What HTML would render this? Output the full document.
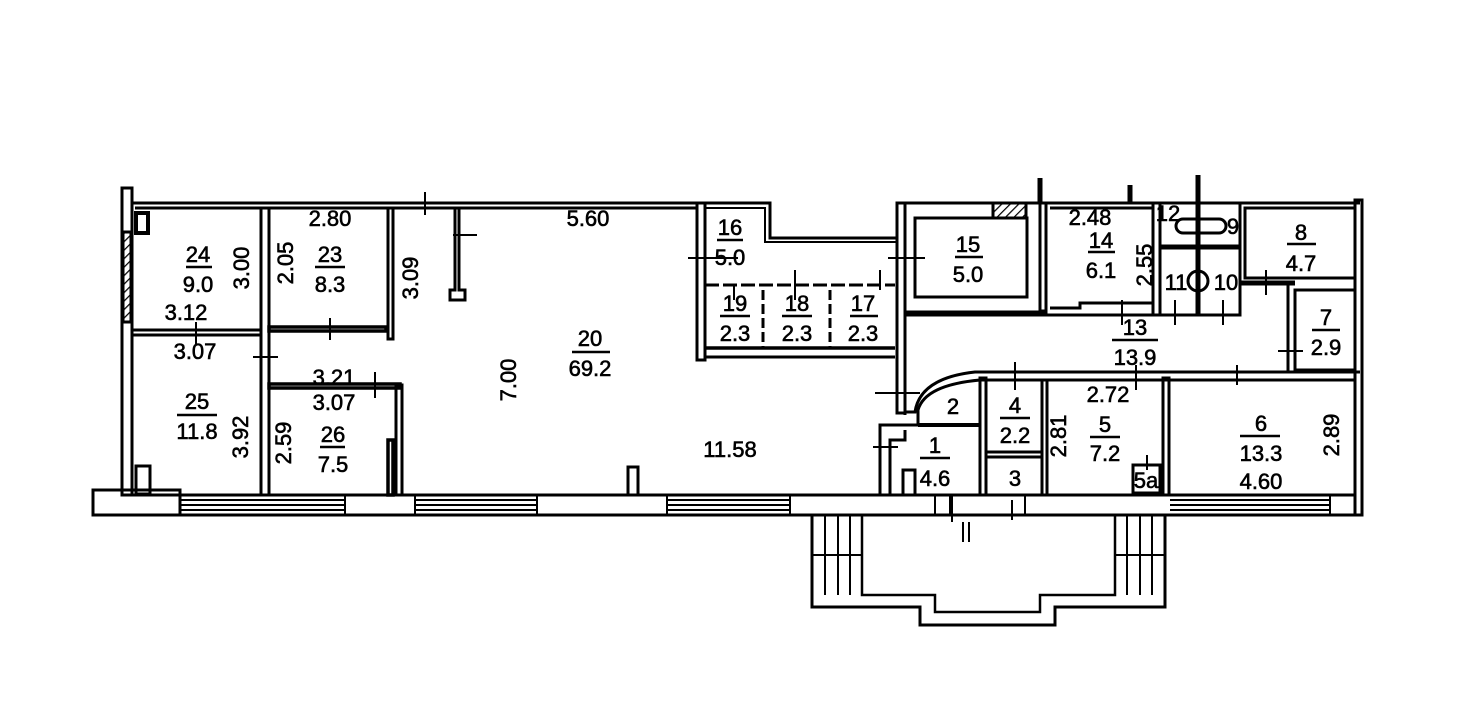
<!DOCTYPE html>
<html><head><meta charset="utf-8"><style>
html,body{margin:0;padding:0;background:#fff;}
svg{display:block}
text{font-family:"Liberation Sans",sans-serif;font-size:22px;fill:#000;stroke:#000;stroke-width:0.6;text-anchor:middle}
</style></head><body>
<svg width="1478" height="727" viewBox="0 0 1478 727" xmlns="http://www.w3.org/2000/svg">
<defs><pattern id="h" width="6" height="6" patternUnits="userSpaceOnUse" patternTransform="rotate(45)"><line x1="0" y1="0" x2="0" y2="6" stroke="#000" stroke-width="2.5"/></pattern></defs>
<g fill="none" stroke="#000" stroke-width="3">
<rect x="122" y="188" width="10" height="307"/>
<rect x="123" y="232" width="8" height="90" fill="url(#h)"/>
<rect x="93" y="490" width="87" height="25"/>
<line x1="132" y1="203" x2="697" y2="203"/><line x1="135" y1="208" x2="697" y2="208"/>
<line x1="93" y1="515" x2="812" y2="515"/><line x1="132" y1="495" x2="880" y2="495"/>
<line x1="1165" y1="515" x2="1362" y2="515"/><line x1="1165" y1="495" x2="1355" y2="495"/>
<line x1="880" y1="495" x2="1165" y2="495"/><line x1="812" y1="515" x2="1165" y2="515"/>
<g stroke-width="2">
<line x1="180" y1="500" x2="345" y2="500"/><line x1="180" y1="505" x2="345" y2="505"/><line x1="180" y1="510" x2="345" y2="510"/>
<line x1="415" y1="500" x2="537" y2="500"/><line x1="415" y1="505" x2="537" y2="505"/><line x1="415" y1="510" x2="537" y2="510"/>
<line x1="667" y1="500" x2="790" y2="500"/><line x1="667" y1="505" x2="790" y2="505"/><line x1="667" y1="510" x2="790" y2="510"/>
<line x1="1170" y1="500" x2="1330" y2="500"/><line x1="1170" y1="505" x2="1330" y2="505"/><line x1="1170" y1="510" x2="1330" y2="510"/>
<line x1="345" y1="495" x2="345" y2="515"/><line x1="415" y1="495" x2="415" y2="515"/><line x1="537" y1="495" x2="537" y2="515"/><line x1="667" y1="495" x2="667" y2="515"/><line x1="790" y1="495" x2="790" y2="515"/><line x1="1330" y1="495" x2="1330" y2="515"/>
</g>
<rect x="136" y="213" width="12" height="20" stroke-width="4"/>
<rect x="136" y="466" width="14" height="28"/>
<rect x="261" y="208" width="8" height="287"/>
<rect x="132" y="330" width="129" height="5"/>
<rect x="269" y="327" width="117" height="4" stroke-width="3.5"/>
<rect x="388" y="208" width="5" height="131"/>
<rect x="269" y="384" width="131" height="4" stroke-width="3.5"/>
<rect x="396" y="385" width="6" height="110"/>
<rect x="388" y="440" width="5" height="55" stroke-width="3.5"/>
<path d="M459 208 V290 H465 V300 H450 V290 H455 V208"/>
<rect x="628" y="467" width="10" height="28"/>
<path d="M697 203 H770 V238 H897"/><path d="M705 208 H765 V242 H897" stroke-width="2"/>
<rect x="697" y="203" width="8" height="157"/>
<line x1="705" y1="285" x2="895" y2="285" stroke-dasharray="14 4"/>
<line x1="705" y1="348" x2="895" y2="348" stroke-width="3.5"/><line x1="705" y1="357" x2="895" y2="357"/>
<line x1="763" y1="290" x2="763" y2="348" stroke-dasharray="10 4"/><line x1="830" y1="290" x2="830" y2="348" stroke-dasharray="10 4"/>
<path d="M897 360 V203 H1040"/><rect x="897" y="203" width="8" height="210"/>
<rect x="915" y="218" width="112" height="79"/>
<rect x="993" y="203" width="33" height="15" fill="url(#h)"/>
<path d="M905 312 H1046 V203"/><rect x="1040" y="203" width="6" height="108"/>
<path d="M1046 203 H1360"/><path d="M1050 208 H1153 V303 H1080 V308 H1050"/>
<rect x="1153" y="203" width="7" height="112"/>
<rect x="1160" y="203" width="80" height="112"/>
<line x1="1160" y1="247" x2="1240" y2="247" stroke-width="5"/>
<line x1="1198" y1="175" x2="1198" y2="315" stroke-width="5"/>
<rect x="1176" y="219" width="50" height="14" rx="7"/>
<circle cx="1198" cy="281" r="10"/>
<line x1="1040" y1="178" x2="1040" y2="203" stroke-width="5"/><line x1="1130" y1="185" x2="1130" y2="203" stroke-width="5"/>
<line x1="905" y1="315" x2="1240" y2="315"/>
<rect x="1245" y="208" width="110" height="70"/>
<line x1="1240" y1="283" x2="1295" y2="283" stroke-width="5"/>
<rect x="1295" y="290" width="60" height="80"/>
<rect x="1355" y="200" width="7" height="315"/>
<line x1="1288" y1="285" x2="1288" y2="372"/>
<path d="M905 415 V412 H915 Q920 378 975 372 H1360"/><path d="M918 425 V410 Q925 385 980 380 H1355"/>
<rect x="1163" y="378" width="6" height="117"/>
<rect x="980" y="378" width="6" height="117"/>
<rect x="1042" y="380" width="5" height="115"/>
<rect x="986" y="452" width="56" height="5"/>
<rect x="1133" y="465" width="27" height="28"/>
<line x1="918" y1="425" x2="980" y2="425" stroke-width="4"/>
<path d="M880 495 V425 H918"/><path d="M890 495 V440 H905 V430"/>
<path d="M903 495 V470 H915 V495"/>
<path d="M812 515 V607 H920 V625 H1055 V607 H1165 V515"/>
<path d="M862 515 V595 H935 V612 H1040 V595 H1115 V515" stroke-width="2.5"/>
<g stroke-width="2">
<line x1="825" y1="515" x2="825" y2="595"/><line x1="838" y1="515" x2="838" y2="595"/><line x1="850" y1="515" x2="850" y2="595"/><line x1="812" y1="555" x2="862" y2="555"/>
<line x1="1127" y1="515" x2="1127" y2="595"/><line x1="1140" y1="515" x2="1140" y2="595"/><line x1="1152" y1="515" x2="1152" y2="595"/><line x1="1115" y1="555" x2="1165" y2="555"/>
<line x1="935" y1="495" x2="935" y2="515"/><line x1="950" y1="495" x2="950" y2="515"/><line x1="1025" y1="495" x2="1025" y2="515"/>
<line x1="963" y1="522" x2="963" y2="542"/><line x1="969" y1="522" x2="969" y2="542"/>
</g>
<g stroke-width="2">
<line x1="425" y1="192" x2="425" y2="215"/><line x1="453" y1="235" x2="477" y2="235"/>
<line x1="196" y1="322" x2="196" y2="345"/><line x1="330" y1="318" x2="330" y2="340"/><line x1="253" y1="357" x2="278" y2="357"/><line x1="375" y1="372" x2="375" y2="398"/>
<line x1="688" y1="258" x2="738" y2="258"/><line x1="734" y1="285" x2="734" y2="300"/><line x1="795" y1="270" x2="795" y2="300"/><line x1="880" y1="270" x2="880" y2="290"/>
<line x1="888" y1="258" x2="925" y2="258"/><line x1="875" y1="393" x2="920" y2="393"/><line x1="873" y1="447" x2="898" y2="447"/>
<line x1="1122" y1="300" x2="1122" y2="325"/><line x1="1175" y1="300" x2="1175" y2="325"/><line x1="1223" y1="300" x2="1223" y2="325"/>
<line x1="1266" y1="270" x2="1266" y2="295"/><line x1="1278" y1="351" x2="1303" y2="351"/><line x1="1237" y1="365" x2="1237" y2="385"/>
<line x1="1015" y1="362" x2="1015" y2="390"/><line x1="1136" y1="365" x2="1136" y2="390"/><line x1="1147" y1="455" x2="1147" y2="470"/>
<line x1="1012" y1="500" x2="1012" y2="520"/><line x1="952" y1="495" x2="952" y2="522"/>
</g>
</g>
<g stroke="#000" stroke-width="2.5">
<line x1="186" y1="267" x2="212" y2="267"/><line x1="315" y1="267" x2="345" y2="267"/><line x1="177" y1="415" x2="217" y2="415"/><line x1="320" y1="447" x2="345" y2="447"/>
<line x1="572" y1="352" x2="610" y2="352"/><line x1="717" y1="240" x2="743" y2="240"/><line x1="720" y1="316" x2="750" y2="316"/><line x1="782" y1="316" x2="812" y2="316"/><line x1="850" y1="316" x2="878" y2="316"/>
<line x1="955" y1="257" x2="983" y2="257"/><line x1="1088" y1="252" x2="1115" y2="252"/><line x1="1287" y1="244" x2="1316" y2="244"/><line x1="1312" y1="330" x2="1340" y2="330"/>
<line x1="1112" y1="340" x2="1158" y2="340"/><line x1="1000" y1="418" x2="1030" y2="418"/><line x1="1090" y1="437" x2="1120" y2="437"/><line x1="920" y1="458" x2="950" y2="458"/><line x1="1240" y1="436" x2="1280" y2="436"/>
</g>
<g>
<text x="198" y="262">24</text><text x="198" y="292">9.0</text><text x="186" y="320">3.12</text><text x="195" y="359">3.07</text>
<text x="330" y="226">2.80</text><text x="330" y="262">23</text><text x="330" y="292">8.3</text>
<text x="197" y="409">25</text><text x="197" y="439">11.8</text>
<text x="334" y="385">3.21</text><text x="334" y="410">3.07</text><text x="333" y="442">26</text><text x="333" y="472">7.5</text>
<text x="590" y="346">20</text><text x="590" y="376">69.2</text><text x="588" y="226">5.60</text><text x="730" y="457">11.58</text>
<text x="730" y="235">16</text><text x="730" y="265">5.0</text>
<text x="735" y="311">19</text><text x="735" y="341">2.3</text><text x="797" y="311">18</text><text x="797" y="341">2.3</text><text x="863" y="311">17</text><text x="863" y="341">2.3</text>
<text x="968" y="252">15</text><text x="968" y="282">5.0</text>
<text x="1090" y="225">2.48</text><text x="1101" y="248">14</text><text x="1101" y="278">6.1</text>
<text x="1168" y="221" font-size="18">12</text><text x="1233" y="234" font-size="18">9</text><text x="1176" y="290">11</text><text x="1226" y="290">10</text>
<text x="1301" y="240">8</text><text x="1301" y="271">4.7</text><text x="1326" y="325">7</text><text x="1326" y="355">2.9</text>
<text x="1135" y="335">13</text><text x="1135" y="365">13.9</text>
<text x="953" y="414">2</text><text x="1015" y="413">4</text><text x="1015" y="443">2.2</text>
<text x="1108" y="402">2.72</text><text x="1105" y="432">5</text><text x="1105" y="461">7.2</text>
<text x="935" y="453">1</text><text x="935" y="486">4.6</text><text x="1015" y="486">3</text><text x="1146" y="488" font-size="15">5a</text>
<text x="1261" y="431">6</text><text x="1261" y="461">13.3</text><text x="1261" y="489">4.60</text>
<text transform="translate(249,268) rotate(-90)">3.00</text><text transform="translate(293,263) rotate(-90)">2.05</text><text transform="translate(418,278) rotate(-90)">3.09</text>
<text transform="translate(248,437) rotate(-90)">3.92</text><text transform="translate(291,443) rotate(-90)">2.59</text><text transform="translate(516,380) rotate(-90)">7.00</text>
<text transform="translate(1152,265) rotate(-90)">2.55</text><text transform="translate(1066,436) rotate(-90)">2.81</text><text transform="translate(1339,435) rotate(-90)">2.89</text>
</g>
</svg>
</body></html>
